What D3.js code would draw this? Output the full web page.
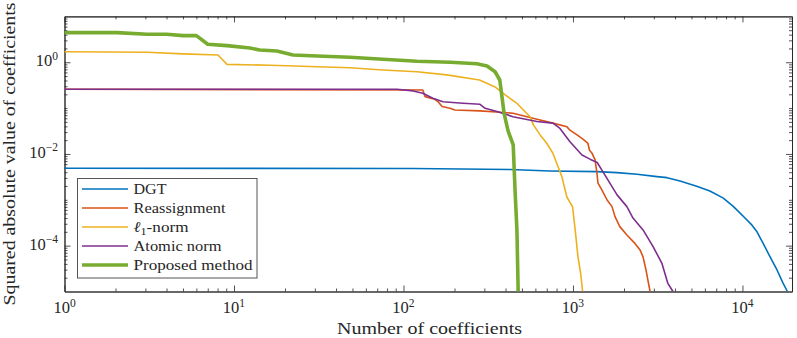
<!DOCTYPE html>
<html><head><meta charset="utf-8">
<script src="https://cdn.jsdelivr.net/npm/d3@7"></script>
<style>
body{margin:0;background:#fff}
svg{display:block}
text{font-family:"Liberation Serif","DejaVu Serif",serif;fill:#262626}
</style>
</head><body>
<svg id="c" width="797" height="338"></svg>
<script>
// ---- data ----
const seriesNames = ["DGT", "Reassignment", "ℓ1-norm", "Atomic norm", "Proposed method"];
const seriesColors = ["#0072BD", "#D95319", "#EDB120", "#7E2F8E", "#77AC30"];

const dgtN = [1, 114, 425, 731, 1385, 1820, 2390, 3130, 3590, 4280, 5370, 6420, 7670, 8790, 10350, 11380, 12180, 13220, 14530, 15990, 17380, 18420];
const dgtV = [0.00488, 0.00483, 0.00459, 0.00426, 0.00411, 0.00391, 0.00361, 0.0032, 0.00304, 0.00258, 0.00198, 0.00156, 0.0011, 0.00073, 0.0004, 0.00028, 0.0002, 0.000113, 5.75e-5, 2.95e-5, 1.5e-5, 1e-5];

const reassN = [1, 130, 134, 153, 160, 169, 188, 201, 283, 371, 443, 487, 613, 762, 922, 960, 1056, 1145, 1225, 1250, 1295, 1350, 1385, 1405, 1480, 1590, 1700, 1770, 1890, 2080, 2320, 2490, 2590, 2700, 2790, 2850];
const reassV = [0.258, 0.249, 0.178, 0.156, 0.138, 0.108, 0.099, 0.091, 0.087, 0.081, 0.077, 0.071, 0.057, 0.047, 0.039, 0.033, 0.026, 0.021, 0.0171, 0.0122, 0.0104, 0.0074, 0.0038, 0.0023, 0.00164, 0.00099, 0.00071, 0.00043, 0.00026, 0.000171, 0.000112, 8.0e-5, 5.7e-5, 2.9e-5, 1.5e-5, 1e-5];

const l1N = [1, 3.07, 5.0, 8.05, 9.1, 16.3, 48.3, 75.7, 120, 180, 281, 347, 398, 465, 510, 560, 584, 640, 700, 760, 800, 860, 920, 995, 1035, 1070, 1110, 1140];
const l1V = [1.70, 1.65, 1.52, 1.44, 0.90, 0.86, 0.76, 0.68, 0.62, 0.53, 0.41, 0.29, 0.194, 0.129, 0.091, 0.064, 0.043, 0.026, 0.0171, 0.0105, 0.0064, 0.0032, 0.00115, 0.0007, 0.00019, 5.7e-5, 2.5e-5, 1e-5];

const atomN = [1, 91.6, 114, 130, 149, 171, 224, 283, 303, 356, 443, 613, 762, 838, 960, 1130, 1260, 1390, 1500, 1820, 2080, 2260, 2590, 2970, 3350, 3630, 3890];
const atomV = [0.258, 0.258, 0.237, 0.211, 0.164, 0.138, 0.128, 0.121, 0.099, 0.084, 0.065, 0.051, 0.047, 0.036, 0.0185, 0.0095, 0.0077, 0.0065, 0.0041, 0.00128, 0.00071, 0.0004, 0.00022, 9.5e-5, 4.1e-5, 1.5e-5, 1e-5];

const propN = [1, 2.04, 3.07, 4.0, 5.0, 6.0, 7.0, 9.1, 12.4, 14.2, 17.9, 22.3, 30.9, 48.3, 75.7, 120, 189, 271, 311, 347, 370, 380, 392, 414, 444, 456, 467, 475];
const propV = [4.42, 4.42, 4.08, 4.08, 3.80, 3.80, 2.47, 2.30, 2.05, 1.85, 1.76, 1.44, 1.37, 1.29, 1.16, 1.05, 1.0, 0.93, 0.83, 0.62, 0.41, 0.194, 0.078, 0.032, 0.0157, 0.00141, 0.00022, 1e-5];

const xDomain = [1, 19600];
const yDomain = [1e-5, 10];
const xMajorTicks = [1, 10, 100, 1000, 10000];
const xTickExp = ["0", "1", "2", "3", "4"];
const yMajorTicks = [1e-4, 1e-2, 1];
const yTickExp = ["−4", "−2", "0"];
const xLabel = "Number of coefficients";
const yLabel = "Squared absolute value of coefficients";

// ---- layout ----
const L = 64.5, R = 792, T = 16.4, B = 291.5;
const axisColor = "#262626";
const svg = d3.select("#c");
const x = d3.scaleLog().domain(xDomain).range([L, R]);
const y = d3.scaleLog().domain(yDomain).range([B, T]);

svg.append("defs").append("clipPath").attr("id", "clip")
  .append("rect").attr("x", L).attr("y", T).attr("width", R - L).attr("height", B - T);

// minor ticks
const xMinor = [];
for (let e = 0; e <= 4; e++) for (let m = 2; m <= 9; m++) { const v = m * Math.pow(10, e); if (v < xDomain[1]) xMinor.push(v); }
const yMinor = [];
for (let e = -5; e <= 0; e++) for (let m = 1; m <= 9; m++) {
  const v = m * Math.pow(10, e);
  if (m === 1 && yMajorTicks.some(t => Math.abs(Math.log10(t) - e) < 1e-9)) continue;
  if (v > 1e-5 * 1.0001 && v < 10 * 0.9999) yMinor.push(v);
}

function styleAxis(g) {
  g.selectAll("path").attr("stroke", axisColor).attr("stroke-width", 0.9);
  g.selectAll("line").attr("stroke", axisColor).attr("stroke-width", 0.8);
}
const majorLen = 6, minorLen = 3;
// bottom
svg.append("g").attr("transform", `translate(0,${B})`)
  .call(d3.axisBottom(x).tickValues(xMajorTicks).tickSizeInner(-majorLen).tickSizeOuter(0).tickFormat(""))
  .call(styleAxis);
svg.append("g").attr("transform", `translate(0,${B})`)
  .call(d3.axisBottom(x).tickValues(xMinor).tickSizeInner(-minorLen).tickSizeOuter(0).tickFormat(""))
  .call(styleAxis);
// top
svg.append("g").attr("transform", `translate(0,${T})`)
  .call(d3.axisTop(x).tickValues(xMajorTicks).tickSizeInner(-majorLen).tickSizeOuter(0).tickFormat(""))
  .call(styleAxis);
svg.append("g").attr("transform", `translate(0,${T})`)
  .call(d3.axisTop(x).tickValues(xMinor).tickSizeInner(-minorLen).tickSizeOuter(0).tickFormat(""))
  .call(styleAxis);
// left
svg.append("g").attr("transform", `translate(${L},0)`)
  .call(d3.axisLeft(y).tickValues(yMajorTicks).tickSizeInner(-majorLen).tickSizeOuter(0).tickFormat(""))
  .call(styleAxis);
svg.append("g").attr("transform", `translate(${L},0)`)
  .call(d3.axisLeft(y).tickValues(yMinor).tickSizeInner(-minorLen).tickSizeOuter(0).tickFormat(""))
  .call(styleAxis);
// right
svg.append("g").attr("transform", `translate(${R},0)`)
  .call(d3.axisRight(y).tickValues(yMajorTicks).tickSizeInner(-majorLen).tickSizeOuter(0).tickFormat(""))
  .call(styleAxis);
svg.append("g").attr("transform", `translate(${R},0)`)
  .call(d3.axisRight(y).tickValues(yMinor).tickSizeInner(-minorLen).tickSizeOuter(0).tickFormat(""))
  .call(styleAxis);

// tick labels
const tickFs = 16.5, supFs = 11.5;
xMajorTicks.forEach((t, i) => {
  const tx = svg.append("text").attr("x", x(t)).attr("y", B + 21.5).attr("text-anchor", "middle").style("font-size", tickFs + "px");
  tx.append("tspan").text("10");
  tx.append("tspan").attr("dy", -6.5).style("font-size", supFs + "px").text(xTickExp[i]);
});
yMajorTicks.forEach((t, i) => {
  const tx = svg.append("text").attr("x", L - 6.5).attr("y", y(t) + 4).attr("text-anchor", "end").style("font-size", tickFs + "px");
  tx.append("tspan").text("10");
  tx.append("tspan").attr("dy", -6.5).style("font-size", supFs + "px").text(yTickExp[i]);
});

// axis labels
svg.append("text").attr("x", 429.5).attr("y", 334).attr("text-anchor", "middle")
  .style("font-size", "16.5px").attr("textLength", 185).attr("lengthAdjust", "spacingAndGlyphs").text(xLabel);
svg.append("text").attr("transform", "translate(14.5,154) rotate(-90)").attr("text-anchor", "middle")
  .style("font-size", "16.5px").attr("textLength", 303).attr("lengthAdjust", "spacingAndGlyphs").text(yLabel);

// lines
const seriesData = [[dgtN, dgtV], [reassN, reassV], [l1N, l1V], [atomN, atomV], [propN, propV]];
const widths = [1.6, 1.6, 1.6, 1.6, 3.6];
const line = d3.line().x(d => x(d[0])).y(d => y(d[1]));
const plot = svg.append("g").attr("clip-path", "url(#clip)");
seriesData.forEach((s, i) => {
  const pts = s[0].map((n, k) => [n, s[1][k]]);
  plot.append("path").datum(pts).attr("d", line).attr("fill", "none")
    .attr("stroke", seriesColors[i]).attr("stroke-width", widths[i])
    .attr("stroke-linejoin", "round").attr("stroke-linecap", "butt");
});

// legend
const lg = svg.append("g");
lg.append("rect").attr("x", 77.5).attr("y", 178.5).attr("width", 179.5).attr("height", 99.5)
  .attr("fill", "#fff").attr("stroke", "#555").attr("stroke-width", 1);
const rowY = [189, 208, 227, 246, 265];
const textW = [33, 92, null, 88, 119];
seriesNames.forEach((nm, i) => {
  lg.append("line").attr("x1", 82).attr("x2", 128).attr("y1", rowY[i]).attr("y2", rowY[i])
    .attr("stroke", seriesColors[i]).attr("stroke-width", widths[i]);
  const t = lg.append("text").attr("x", 133.5).attr("y", rowY[i] + 4.5).style("font-size", "15px");
  if (i === 2) {
    t.append("tspan").style("font-style", "italic").text("ℓ");
    t.append("tspan").attr("dy", 3).style("font-size", "10.5px").text("1");
    t.append("tspan").attr("dy", -3).text("-norm");
    t.attr("textLength", 55).attr("lengthAdjust", "spacingAndGlyphs");
  } else {
    t.text(nm).attr("textLength", textW[i]).attr("lengthAdjust", "spacingAndGlyphs");
  }
});
</script>
</body></html>
